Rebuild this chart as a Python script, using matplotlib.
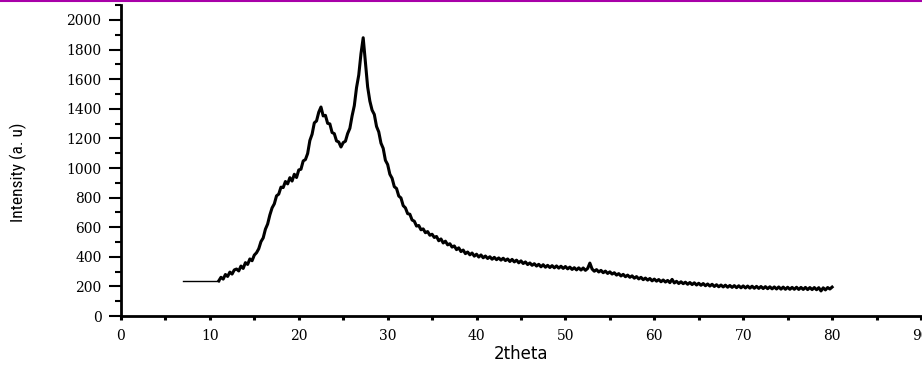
import numpy as np
import matplotlib
matplotlib.use("Agg")
import matplotlib.pyplot as plt
from matplotlib.lines import Line2D
from matplotlib.ticker import MultipleLocator
from matplotlib import font_manager

# --- XRD pattern (step 0.25 deg from 11 to 80) ---
two_theta = np.arange(11, 80.001, 0.25)
intensity = [
    238, 262, 250, 281, 268, 297, 284, 312,            # 11 - 12.75
    318, 305, 338, 322, 361, 349, 386, 374,            # 13 - 14.75
    412, 428, 455, 503, 528, 587, 622, 683,            # 15 - 16.75
    731, 758, 812, 824, 871, 868, 909, 893,            # 17 - 18.75
    935, 912, 958, 936, 987, 992, 1048, 1057,          # 19 - 20.75
    1098, 1186, 1228, 1305, 1318, 1377, 1412, 1352,    # 21 - 22.75
    1356, 1302, 1298, 1240, 1232, 1183, 1176, 1142,    # 23 - 24.75
    1172, 1181, 1233, 1268, 1352, 1421, 1543, 1628,    # 25 - 26.75
    1772, 1880, 1715, 1548, 1452, 1391, 1362, 1281,    # 27 - 28.75
    1244, 1168, 1133, 1052, 1024, 958, 931, 874,       # 29 - 30.75
    862, 811, 798, 746, 731, 692, 688, 649,            # 31 - 32.75
    641, 608, 612, 583, 589, 563, 571, 546,            # 33 - 34.75
    553, 531, 538, 509, 521, 494, 506, 481,            # 35 - 36.75
    489, 466, 474, 449, 461, 436, 446, 422,            # 37 - 38.75
    433, 414, 426, 405, 418, 399, 413, 394,            # 39 - 40.75
    406, 389, 401, 384, 397, 381, 393, 378,            # 41 - 42.75
    391, 375, 386, 369, 383, 366, 378, 360,            # 43 - 44.75
    373, 355, 366, 348, 359, 343, 354, 338,            # 45 - 46.75
    350, 333, 347, 330, 343, 328, 341, 326,            # 47 - 48.75
    339, 324, 337, 322, 335, 319, 331, 315,            # 49 - 50.75
    327, 312, 326, 311, 325, 309, 322, 358,            # 51 - 52.75
    318, 303, 314, 298, 309, 293, 304, 288,            # 53 - 54.75
    299, 284, 293, 277, 287, 271, 282, 266,            # 55 - 56.75
    277, 262, 272, 256, 267, 251, 262, 246,            # 57 - 58.75
    257, 243, 254, 238, 250, 236, 247, 232,            # 59 - 60.75
    244, 230, 241, 226, 248, 224, 235, 220,            # 61 - 62.75
    232, 219, 229, 215, 227, 213, 225, 210,            # 63 - 64.75
    222, 208, 220, 205, 217, 203, 215, 200,            # 65 - 66.75
    212, 198, 210, 197, 209, 195, 207, 194,            # 67 - 68.75
    206, 192, 205, 191, 204, 190, 203, 189,            # 69 - 70.75
    202, 188, 201, 187, 200, 186, 199, 185,            # 71 - 72.75
    198, 184, 197, 183, 197, 182, 196, 181,            # 73 - 74.75
    195, 181, 194, 181, 195, 180, 194, 180,            # 75 - 76.75
    194, 179, 193, 179, 193, 178, 192, 170,            # 77 - 78.75
    191, 177, 193, 183, 196,                           # 79 - 80
]

# flat lead-in segment before the scan starts
flat_x = [7, 11]
flat_y = [240, 240]

# narrow font for the y label if one is around, else Liberation Sans
installed = {f.name for f in font_manager.fontManager.ttflist}
narrow = [n for n in ["Liberation Sans Narrow", "Arial Narrow", "Roboto Condensed"]
          if n in installed]
ylab_family = narrow + ["Liberation Sans", "DejaVu Sans"]

# --- Plot ---
fig = plt.figure(figsize=(9.22, 3.68), dpi=100)
ax = fig.add_axes([0.1312, 0.141, 0.8677, 0.845])

ax.plot(flat_x, flat_y, color="black", linewidth=1.0)
ax.plot(two_theta, intensity, color="black", linewidth=2.2)

ax.set_xlim(0, 90)
ax.set_ylim(0, 2100)
ax.xaxis.set_major_locator(MultipleLocator(10))
ax.xaxis.set_minor_locator(MultipleLocator(5))
ax.yaxis.set_major_locator(MultipleLocator(200))
ax.yaxis.set_minor_locator(MultipleLocator(100))

for side in ["top", "right"]:
    ax.spines[side].set_visible(False)
for side in ["left", "bottom"]:
    ax.spines[side].set_linewidth(2)

ax.tick_params(axis="y", which="major", direction="out", length=9, width=1.5, pad=5)
ax.tick_params(axis="y", which="minor", direction="out", length=4, width=1.5)
ax.tick_params(axis="x", which="major", direction="out", length=3, width=2.2, pad=6)
ax.tick_params(axis="x", which="minor", direction="out", length=3, width=2.2)

for lbl in ax.get_xticklabels() + ax.get_yticklabels():
    lbl.set_fontfamily("DejaVu Serif")
    lbl.set_fontsize(10)

ax.set_xlabel("2theta", family="DejaVu Sans", fontsize=12, labelpad=2)
ax.set_ylabel("Intensity (a. u)", family=ylab_family, fontsize=12.5)
ax.yaxis.set_label_coords(-0.117, 0.463)

# purple rule along the top edge
fig.add_artist(Line2D([0, 1], [0.998, 0.998], transform=fig.transFigure,
                      color="#a800a8", linewidth=1.5))

fig.savefig("out.png", dpi=100)
